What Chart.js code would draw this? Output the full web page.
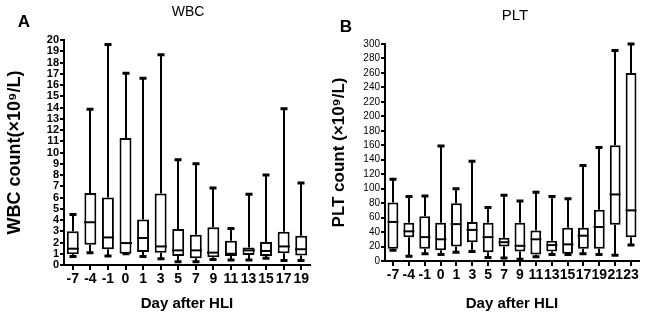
<!DOCTYPE html>
<html>
<head>
<meta charset="utf-8">
<script src="https://cdn.jsdelivr.net/npm/chart.js@4"></script>
<style>
  html, body { margin: 0; padding: 0; background: #fff; }
  .panel { position: absolute; top: 0; width: 325px; height: 320px; }
  #panelA { left: 0; }
  #panelB { left: 325px; }
</style>
</head>
<body>
<div class="panel" id="panelA"><canvas id="wbcChart" width="325" height="320"></canvas></div>
<div class="panel" id="panelB"><canvas id="pltChart" width="325" height="320"></canvas></div>
<script>
// WBC (x10^9/L) box plot values
var wbcDays = ['-7', '-4', '-1', '0', '1', '3', '5', '7', '9', '11', '13', '15', '17', '19'];
var wbcMin = [0.75, 1.1, 0.8, 1.0, 0.75, 0.55, 0.3, 0.3, 0.5, 0.45, 0.45, 0.6, 0.4, 0.4];
var wbcQ1 = [0.95, 1.8, 1.4, 1.0, 1.15, 1.1, 0.8, 0.6, 0.7, 0.8, 0.9, 0.8, 1.05, 0.85];
var wbcMed = [1.45, 3.8, 2.45, 1.95, 2.4, 1.65, 1.3, 1.3, 1.1, 1.0, 1.3, 1.25, 1.65, 1.4];
var wbcQ3 = [3.0, 6.4, 6.0, 11.3, 4.05, 6.35, 3.2, 2.7, 3.35, 2.15, 1.55, 2.05, 2.95, 2.6];
var wbcMax = [4.5, 13.85, 19.6, 17.05, 16.6, 18.7, 9.35, 9.0, 6.85, 3.25, 6.3, 8.0, 13.9, 7.3];

// PLT (x10^9/L)
var pltDays = ['-7', '-4', '-1', '0', '1', '3', '5', '7', '9', '11', '13', '15', '17', '19', '21', '23'];
var pltMin = [15, 6.5, 10, 9, 12, 13, 5, 4, 2.5, 6, 9, 9, 10, 9, 8, 22];
var pltQ1 = [17, 33, 17, 15, 20, 26, 12, 20, 13, 9, 13, 10, 17, 17, 50, 33];
var pltMed = [54, 41, 33, 30, 51, 43, 33, 26, 21, 30, 22, 23, 35, 47, 92, 70];
var pltQ3 = [81, 53, 62, 53, 80, 54, 53, 32, 53, 42, 28, 46, 46, 71, 160, 260];
var pltMax = [113, 89, 90, 159, 100, 138, 74, 91, 83, 95, 89, 86, 132, 157, 291, 300];

var BOLD = "'Liberation Sans', Arial, sans-serif";
var NARROW = "'Liberation Sans Narrow', 'Liberation Sans', Arial, sans-serif";

// whiskers, caps and median line drawn on top of the floating-bar boxes
function makeWhiskers(lo, med, hi) {
  return {
    id: 'whiskers',
    afterDatasetsDraw: function(chart) {
      var ctx = chart.ctx;
      var ys = chart.scales.y;
      var meta = chart.getDatasetMeta(0);
      ctx.save();
      ctx.strokeStyle = '#000';
      meta.data.forEach(function(bar, i) {
        var x = Math.round(bar.x);
        var half = bar.width / 2;
        var box = bar.getProps(['y', 'base'], true);
        var top = Math.min(box.y, box.base);
        var bottom = Math.max(box.y, box.base);
        var pHi = ys.getPixelForValue(hi[i]);
        var pLo = ys.getPixelForValue(lo[i]);
        var pMed = ys.getPixelForValue(med[i]);

        ctx.lineWidth = 2;
        ctx.beginPath();
        ctx.moveTo(x, top); ctx.lineTo(x, pHi);
        ctx.moveTo(x, bottom); ctx.lineTo(x, pLo);
        ctx.stroke();

        ctx.lineWidth = 3;
        ctx.beginPath();
        ctx.moveTo(x - 3.5, pHi); ctx.lineTo(x + 3.5, pHi);
        ctx.moveTo(x - 3.5, pLo); ctx.lineTo(x + 3.5, pLo);
        ctx.stroke();

        ctx.lineWidth = 2;
        ctx.beginPath();
        ctx.moveTo(x - half, pMed); ctx.lineTo(x + half, pMed);
        ctx.stroke();
      });
      ctx.restore();
    }
  };
}

// panel letter and small chart title
function makeLabels(letter, lx, ly, title, tx, ty, titleSize) {
  return {
    id: 'panelLabels',
    afterDraw: function(chart) {
      var ctx = chart.ctx;
      ctx.save();
      ctx.fillStyle = '#000';
      ctx.textAlign = 'center';
      ctx.textBaseline = 'middle';
      ctx.font = 'bold 17px ' + BOLD;
      ctx.fillText(letter, lx, ly);
      ctx.font = titleSize + 'px ' + NARROW;
      ctx.fillText(title, tx, ty);
      ctx.restore();
    }
  };
}

function buildChart(canvasId, cfg) {
  var boxes = cfg.q1.map(function(v, i) { return [v, cfg.q3[i]]; });
  return new Chart(document.getElementById(canvasId), {
    type: 'bar',
    data: {
      labels: cfg.labels,
      datasets: [{
        data: boxes,
        backgroundColor: '#fff',
        borderColor: '#000',
        borderWidth: 2,
        borderSkipped: false,
        barPercentage: 0.68,
        categoryPercentage: 1
      }]
    },
    options: {
      responsive: false,
      animation: false,
      layout: { padding: { left: 0, top: cfg.padTop, right: cfg.padRight, bottom: 0 } },
      plugins: { legend: { display: false }, tooltip: { enabled: false } },
      scales: {
        x: {
          offset: true,
          grid: { display: true, offset: false, drawOnChartArea: false, tickLength: 5, color: '#000', lineWidth: 2 },
          border: { display: true, color: '#000', width: 2 },
          ticks: { autoSkip: false, maxRotation: 0, padding: 1, color: '#000', font: { family: BOLD, size: 14, weight: 'bold' } },
          title: { display: true, text: 'Day after HLI', color: '#000', padding: { top: 0, bottom: 7 }, font: { family: BOLD, size: 15, weight: 'bold' } },
          afterFit: function(scale) { scale.height = cfg.xHeight; }
        },
        y: {
          min: 0,
          max: cfg.yMax,
          grid: { display: true, drawOnChartArea: false, tickLength: 4, color: '#000', lineWidth: 2 },
          border: { display: true, color: '#000', width: 2 },
          ticks: { stepSize: cfg.step, autoSkip: false, padding: 1, color: '#000', font: cfg.tickFont },
          title: { display: true, text: cfg.yTitle, color: '#000', padding: { top: 4, bottom: 0 }, font: { family: BOLD, size: cfg.yTitleSize, weight: 'bold' } },
          afterFit: function(scale) { scale.width = cfg.yWidth; }
        }
      }
    },
    plugins: [makeWhiskers(cfg.lo, cfg.med, cfg.hi), cfg.labelsPlugin]
  });
}

buildChart('wbcChart', {
  labels: wbcDays, lo: wbcMin, q1: wbcQ1, med: wbcMed, q3: wbcQ3, hi: wbcMax,
  yMax: 20, step: 1, yTitle: 'WBC count(\u00d710\u2079/L)', yTitleSize: 18,
  tickFont: { family: BOLD, size: 11, weight: 'bold' },
  padTop: 40, padRight: 15, xHeight: 55, yWidth: 64,
  labelsPlugin: makeLabels('A', 24, 22, 'WBC', 188, 12, 14)
});

buildChart('pltChart', {
  labels: pltDays, lo: pltMin, q1: pltQ1, med: pltMed, q3: pltQ3, hi: pltMax,
  yMax: 300, step: 20, yTitle: 'PLT count (\u00d710\u2079/L)', yTitleSize: 17,
  tickFont: { family: NARROW, size: 10 },
  padTop: 44, padRight: 11, xHeight: 59, yWidth: 60,
  labelsPlugin: makeLabels('B', 21, 27, 'PLT', 190, 16, 15)
});
</script>
</body>
</html>
